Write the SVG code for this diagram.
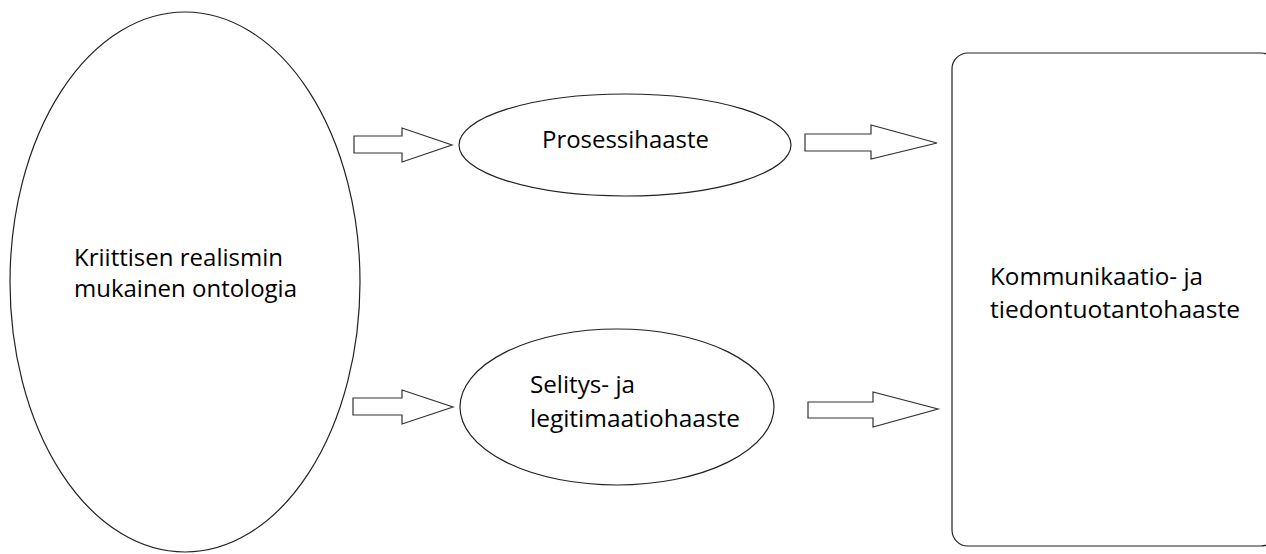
<svg xmlns="http://www.w3.org/2000/svg" width="1266" height="554" viewBox="0 0 1266 554">
<style>
.shape{fill:#fff;stroke:#222;stroke-width:1.2}
.arrow{fill:#fff;stroke:#333;stroke-width:1.2;stroke-linejoin:miter}
.t{font-family:"Open Sans","Liberation Sans",sans-serif;font-size:24px;fill:#000}
</style>
<rect width="1266" height="554" fill="#fff"/>
<g id="connectors">
<polygon class="arrow" points="354,136 402,136 402,128 452,145 402,162 402,153 354,153"/>
<polygon class="arrow" points="805,134 871,134 871,125 937,143 871,159 871,151 805,151"/>
<polygon class="arrow" points="353,398 402,398 402,390 453,407 402,424 402,415 353,415"/>
<polygon class="arrow" points="808,402 873,402 873,392 938,409 873,427 873,418 808,418"/>
</g>
<g id="node-ontologia">
<ellipse class="shape" cx="185" cy="282" rx="175" ry="270"/>
<text class="t" x="74" y="266" textLength="209" lengthAdjust="spacingAndGlyphs">Kriittisen realismin</text>
<text class="t" x="74" y="297" textLength="223" lengthAdjust="spacingAndGlyphs">mukainen ontologia</text>
</g>
<g id="node-prosessi">
<ellipse class="shape" cx="625" cy="145" rx="166" ry="51"/>
<text class="t" x="542" y="148" textLength="167" lengthAdjust="spacingAndGlyphs">Prosessihaaste</text>
</g>
<g id="node-selitys">
<ellipse class="shape" cx="617" cy="407" rx="157" ry="78"/>
<text class="t" x="530" y="393" textLength="105" lengthAdjust="spacingAndGlyphs">Selitys- ja</text>
<text class="t" x="530" y="427" textLength="210" lengthAdjust="spacingAndGlyphs">legitimaatiohaaste</text>
</g>
<g id="node-kommunikaatio">
<rect class="shape" x="952" y="53" width="325" height="493" rx="16" ry="16"/>
<text class="t" x="990" y="285" textLength="213" lengthAdjust="spacingAndGlyphs">Kommunikaatio- ja</text>
<text class="t" x="990" y="318" textLength="250" lengthAdjust="spacingAndGlyphs">tiedontuotantohaaste</text>
</g>
</svg>
